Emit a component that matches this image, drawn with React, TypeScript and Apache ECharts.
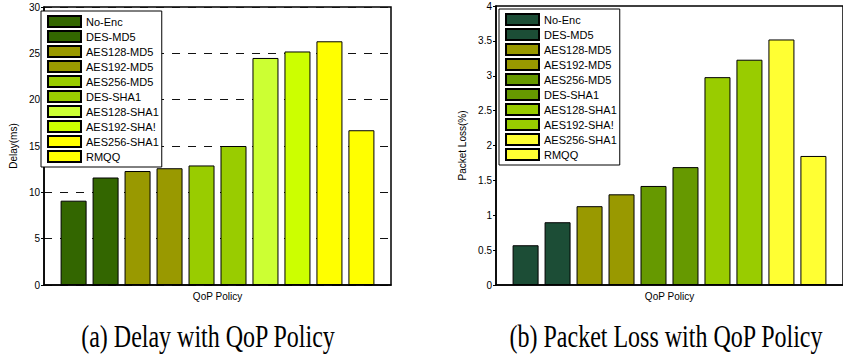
import React, { useEffect, useRef } from "react";
import * as echarts from "echarts";

const policies = [
  "No-Enc",
  "DES-MD5",
  "AES128-MD5",
  "AES192-MD5",
  "AES256-MD5",
  "DES-SHA1",
  "AES128-SHA1",
  "AES192-SHA!",
  "AES256-SHA1",
  "RMQQ",
];

const delayValues = [9.1, 11.6, 12.3, 12.6, 12.9, 15.0, 24.5, 25.2, 26.3, 16.7];
const lossValues = [0.57, 0.9, 1.13, 1.3, 1.42, 1.69, 2.98, 3.23, 3.52, 1.85];

const delayColors = [
  "#336600", "#336600", "#999900", "#999900", "#99cc00",
  "#99cc00", "#ccff33", "#ccff00", "#ffff00", "#ffff00",
];
const lossColors = [
  "#1c4d36", "#1c4d36", "#999900", "#999900", "#669900",
  "#669900", "#99cc00", "#99cc00", "#ffff33", "#ffff33",
];

const xName = "QoP Policy";
const delayAxisName = "Delay(ms)";
const lossAxisName = "Packet Loss(%)";
const captionA = "(a) Delay with QoP Policy";
const captionB = "(b) Packet Loss with QoP Policy";

const SANS = "Liberation Sans, Arial, sans-serif";
const SERIF = "Liberation Serif, Times New Roman, serif";

type Cfg = {
  values: number[];
  colors: string[];
  max: number;
  interval: number;
  yName: string;
  yNameGap: number;
  grid: { left: number; top: number; width: number; height: number };
  legendPos: { left: number; top: number };
  gridLines: boolean;
  caption: string;
  captionX: number;
};

function buildOption(c: Cfg): any {
  return {
    animation: false,
    grid: {
      ...c.grid,
      show: true,
      borderColor: "#000",
      borderWidth: 1.5,
      backgroundColor: "transparent",
    },
    legend: {
      orient: "vertical",
      left: c.legendPos.left,
      top: c.legendPos.top,
      itemWidth: 33,
      itemHeight: 11,
      itemGap: 2,
      icon: "rect",
      backgroundColor: "#fff",
      borderColor: "#000",
      borderWidth: 1,
      borderRadius: 0,
      padding: [4, 3, 4, 6],
      selectedMode: false,
      textStyle: { fontSize: 11, color: "#000", fontFamily: SANS, lineHeight: 13 },
      data: policies,
    },
    xAxis: {
      type: "category",
      data: [xName],
      axisLabel: { show: false },
      axisTick: { show: false },
      axisLine: { lineStyle: { color: "#000", width: 1.5 } },
      name: xName,
      nameLocation: "middle",
      nameGap: 6,
      nameTextStyle: { fontSize: 10, color: "#000", fontFamily: SANS },
    },
    yAxis: {
      type: "value",
      min: 0,
      max: c.max,
      interval: c.interval,
      name: c.yName,
      nameLocation: "middle",
      nameGap: c.yNameGap,
      nameTextStyle: { fontSize: 10, color: "#000", fontFamily: SANS },
      axisLine: { show: true, lineStyle: { color: "#000", width: 1.5 } },
      axisTick: { show: true, length: 3, lineStyle: { color: "#000" } },
      axisLabel: { fontSize: 10, color: "#000", margin: 4, fontFamily: SANS },
      splitLine: {
        show: c.gridLines,
        lineStyle: { color: "#111", width: 1, type: [8, 8] },
      },
    },
    series: policies.map((name, i) => ({
      type: "bar",
      name,
      data: [c.values[i]],
      barWidth: 26,
      barGap: "23%",
      itemStyle: {
        color: c.colors[i],
        borderColor: "#000",
        borderWidth: 1,
      },
    })),
    graphic: [
      {
        type: "text",
        x: c.captionX,
        y: 336,
        scaleY: 1.28,
        style: {
          text: c.caption,
          fontSize: 24,
          fontFamily: SERIF,
          fill: "#000",
          textAlign: "center",
          textVerticalAlign: "middle",
        },
      },
    ],
  };
}

function Chart({ cfg, left, width }: { cfg: Cfg; left: number; width: number }) {
  const ref = useRef<HTMLDivElement>(null);
  useEffect(() => {
    if (!ref.current) return;
    const chart = echarts.init(ref.current, undefined, { renderer: "svg" });
    chart.setOption(buildOption(cfg));
    return () => chart.dispose();
  }, []);
  return (
    <div
      ref={ref}
      style={{ position: "absolute", left, top: 0, width, height: 354 }}
    />
  );
}

export default function App() {
  const cfgA: Cfg = {
    values: delayValues,
    colors: delayColors,
    max: 30,
    interval: 5,
    yName: delayAxisName,
    yNameGap: 23,
    grid: { left: 38, top: 7, width: 353, height: 278 },
    legendPos: { left: 41, top: 11 },
    gridLines: true,
    caption: captionA,
    captionX: 208,
  };
  const cfgB: Cfg = {
    values: lossValues,
    colors: lossColors,
    max: 4,
    interval: 0.5,
    yName: lossAxisName,
    yNameGap: 27,
    grid: { left: 75, top: 6, width: 349, height: 279 },
    legendPos: { left: 78, top: 9 },
    gridLines: false,
    caption: captionB,
    captionX: 245,
  };
  return (
    <div
      style={{
        position: "absolute",
        left: 0,
        top: 0,
        width: 843,
        height: 354,
        background: "#fff",
        overflow: "hidden",
      }}
    >
      <Chart cfg={cfgA} left={0} width={421} />
      <Chart cfg={cfgB} left={421} width={422} />
    </div>
  );
}
